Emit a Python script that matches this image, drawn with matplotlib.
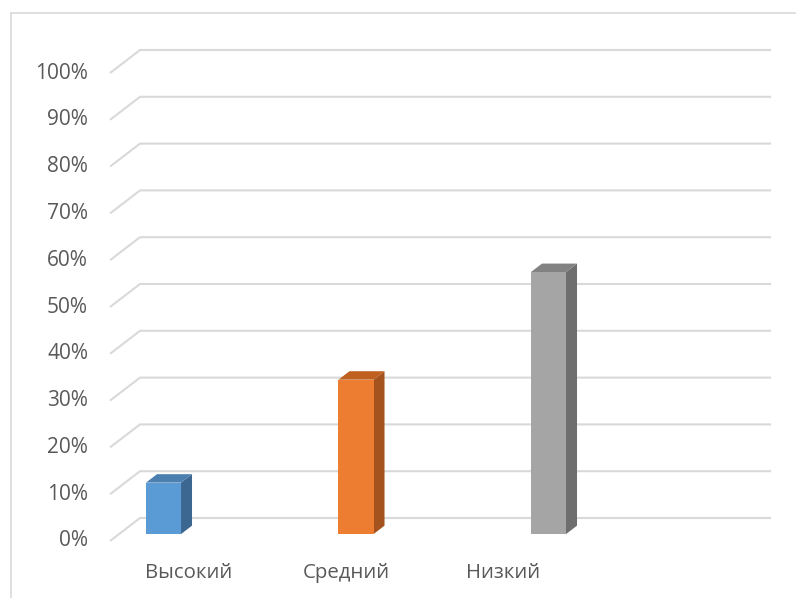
import numpy as np
import matplotlib.pyplot as plt
from matplotlib.patches import Polygon

# data
categories = ['Высокий', 'Средний', 'Низкий']
values = [11, 33, 56]
ticks = list(range(0, 101, 10))
tick_labels = [f'{t}%' for t in ticks]

front_colors = ['#5B9BD5', '#ED7D31', '#A5A5A5']
side_colors = ['#3C6791', '#A4531E', '#6E6E6E']
top_colors = ['#4A7FB0', '#C0601F', '#828282']

# layout (x in category units, y in percent)
depth = np.array([0.1558, 4.915])     # floor depth vector
bar_d0, bar_d1 = 0.30, 0.667          # bar depth range (fraction)
half_w = 0.091
grid_x0, grid_x1 = -0.231, 3.203
label_x = [0.179, 0.995, 1.81]
label_y = -6.84

plt.rcParams['font.family'] = ['Open Sans', 'DejaVu Sans']
text_color = '#595959'

fig = plt.figure(figsize=(7.96, 5.98), dpi=100)
ax = fig.add_axes([0, 0, 1, 1])
ax.set_xlim(-0.8026, 3.3325)
ax.set_ylim(-12.18, 115.6)
ax.axis('off')

# chart border
fig.add_artist(plt.Line2D([11 / 796, 11 / 796], [0, 1 - 13 / 598], color='#D9D9D9', lw=1.2))
fig.add_artist(plt.Line2D([11 / 796, 1], [1 - 13 / 598, 1 - 13 / 598], color='#D9D9D9', lw=1.2))

# gridlines: front-left diagonal + back wall
for t, lab in zip(ticks, tick_labels):
    xs = [grid_x0, grid_x0 + depth[0], grid_x1]
    ys = [t, t + depth[1], t + depth[1]]
    ax.plot(xs, ys, color='#D9D9D9', lw=1.5, solid_capstyle='butt', zorder=1)
    ax.text(grid_x0 - 0.114, t, lab, ha='right', va='center', fontsize=15, color=text_color)

# 3d-ish bars
for i, v in enumerate(values):
    fx = i + bar_d0 * depth[0]
    fy = bar_d0 * depth[1]
    bx = i + bar_d1 * depth[0]
    by = bar_d1 * depth[1]
    x0, x1 = fx - half_w, fx + half_w
    bx0, bx1 = bx - half_w, bx + half_w
    side = [(x1, fy), (bx1, by), (bx1, by + v), (x1, fy + v)]
    top = [(x0, fy + v), (x1, fy + v), (bx1, by + v), (bx0, by + v)]
    front = [(x0, fy), (x1, fy), (x1, fy + v), (x0, fy + v)]
    ax.add_patch(Polygon(side, closed=True, fc=side_colors[i], ec='none', zorder=3))
    ax.add_patch(Polygon(top, closed=True, fc=top_colors[i], ec='none', zorder=3))
    ax.add_patch(Polygon(front, closed=True, fc=front_colors[i], ec='none', zorder=4))

for x, c in zip(label_x, categories):
    ax.text(x, label_y, c, ha='center', va='center', fontsize=14.7, color=text_color)

fig.savefig('out.png', dpi=100)
